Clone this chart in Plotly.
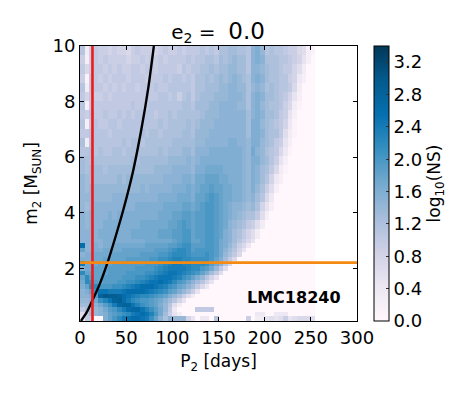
import plotly.graph_objects as go

# log10(NS), in tenths, top row first, rows are cut short where only 0 follows
upper_rows = [
    [11,3,9,10,9,9,8,9,8,8,7,9,10,9,9,9,8,9,10,9,9,10,9,10,10,10,11,10,11,10,12,12,13,13,12,12,11,15,16,14,11,12,11,11,10,9,9,7,6,2,1],
    [9,2,9,10,9,10,9,9,9,9,8,9,9,10,9,10,9,10,9,10,10,10,10,11,10,11,11,12,12,11,13,12,13,14,13,13,11,15,16,15,12,12,12,11,11,10,9,8,5,2],
    [10,7,9,10,10,9,10,9,10,9,9,10,10,9,10,10,9,10,10,10,10,9,11,10,11,11,12,12,13,12,13,13,14,14,13,13,11,15,15,14,13,12,12,11,10,10,8,6,3],
    [9,1,10,10,9,10,9,10,10,10,9,10,10,10,9,10,10,10,11,10,11,11,10,11,10,12,12,13,12,13,14,13,14,15,14,13,12,15,16,15,13,12,12,11,11,9,8,4,2],
    [11,3,10,10,10,9,10,9,10,9,10,10,9,10,10,10,11,10,10,11,11,11,11,11,10,12,12,13,13,13,14,14,15,15,14,14,12,14,15,14,12,13,12,11,11,10,7,3],
    [10,8,10,9,9,10,9,10,10,10,10,10,10,10,11,10,10,11,11,10,11,9,11,12,10,12,13,13,13,14,14,14,15,15,15,14,12,15,16,15,13,13,12,11,10,8,5,2],
    [11,2,10,10,10,10,10,10,10,10,10,11,10,10,10,11,11,11,11,11,11,11,12,12,11,13,13,13,14,14,15,15,15,15,14,14,12,15,16,14,13,12,12,11,9,7,3,1],
    [10,9,11,10,10,11,10,10,11,10,11,10,11,11,11,11,10,11,11,12,11,12,12,12,12,12,13,14,14,14,15,15,15,15,15,15,13,15,16,15,13,13,12,10,9,5,2],
    [11,2,10,11,10,10,11,11,10,11,11,11,11,11,11,11,11,12,11,12,12,12,12,13,12,13,14,14,14,15,15,15,15,15,15,15,13,16,16,14,13,12,11,10,8,4,1],
    [10,10,11,11,11,11,10,11,11,11,11,11,11,12,11,12,12,11,12,12,12,12,13,13,12,14,14,14,15,15,15,15,15,15,15,15,13,16,16,15,13,12,12,10,6,3,1],
    [12,3,11,11,11,11,11,11,11,12,11,12,12,11,12,12,12,12,12,12,13,13,13,13,13,14,14,15,15,15,15,15,16,16,15,15,14,16,16,14,13,12,10,9,5,2],
    [11,11,12,11,12,11,11,12,12,11,12,12,12,12,12,12,12,13,12,13,13,13,14,14,13,15,15,15,16,16,16,16,16,16,16,15,14,17,15,14,12,11,10,7,4,1],
    [13,12,12,12,12,12,12,12,12,12,12,13,12,13,13,13,13,13,13,14,14,14,14,15,14,15,16,16,16,16,16,16,16,16,16,15,14,16,16,14,13,11,9,5,2],
    [13,12,13,13,13,12,13,13,13,13,13,13,13,13,13,13,14,14,14,14,15,15,15,15,14,16,16,17,17,17,17,16,16,16,16,15,14,16,15,13,12,10,7,3,1],
    [14,13,13,13,13,13,13,13,14,13,14,14,14,14,14,14,14,14,15,15,15,15,16,16,15,17,17,18,18,18,17,17,16,16,16,15,14,16,15,13,11,8,4,2],
    [14,13,14,14,14,14,14,14,14,14,14,14,14,15,14,15,15,15,15,15,16,16,16,17,16,17,18,18,19,18,18,17,17,16,16,15,14,16,14,12,9,6,2],
    [14,14,14,14,14,14,14,15,15,15,15,15,15,15,15,15,15,16,16,16,16,17,17,17,16,18,18,19,20,19,18,17,17,16,16,15,14,15,13,11,7,4],
    [14,13,14,15,15,15,15,15,15,15,15,15,16,16,16,16,16,16,17,17,17,17,18,18,17,18,19,20,20,19,18,17,16,15,15,14,13,14,12,8,5,2],
    [15,14,15,15,15,15,16,15,16,16,16,16,16,16,16,16,16,17,17,17,18,18,19,19,18,19,19,20,20,19,18,17,16,15,14,13,12,12,10,6,2],
    [15,14,15,15,15,16,16,16,16,16,16,16,16,17,17,17,17,17,17,18,18,19,20,19,18,19,19,20,20,19,18,17,15,14,13,12,10,9,6,3],
    [15,15,15,15,16,16,16,16,16,16,16,17,17,17,17,17,17,18,18,18,19,19,20,20,18,19,19,20,20,19,18,16,15,13,12,10,8,6,3],
]
lower_rows = [
    [15,15,15,15,15,16,16,16,16,16,16,16,16,16,17,17,17,17,17,17,18,19,20,20,18,18,19,20,20,19,17,16,15,13,11,9,7,5],
    [26,15,15,16,15,16,16,17,17,17,17,17,17,17,18,18,18,18,18,19,19,20,21,21,19,19,19,20,20,19,17,16,14,12,9,7,4],
    [18,15,15,16,16,17,17,17,17,18,18,18,18,18,18,18,19,19,19,20,21,22,22,21,19,20,20,20,20,19,17,15,13,11,8,5],
    [15,16,16,17,17,17,17,18,18,18,18,18,18,19,19,19,19,20,20,21,22,22,22,21,20,20,20,21,20,19,17,14,12,10,7],
    [16,16,16,17,17,18,18,18,18,18,19,19,19,19,19,20,20,21,21,22,23,23,22,22,21,21,21,21,20,18,16,13,10,7],
    [24,17,17,17,18,18,18,19,19,19,19,19,19,19,20,20,20,21,22,23,24,24,23,23,22,22,22,21,19,17,15,11,7],
    [16,17,17,18,18,18,19,19,19,19,19,19,20,20,20,20,21,22,23,24,24,24,24,23,22,22,20,19,17,14,10,6],
    [22,18,18,18,18,18,19,19,19,19,20,20,20,20,21,21,22,23,24,25,25,24,23,22,21,20,18,16,13,10,6],
    [18,22,19,18,18,19,19,19,19,20,20,20,21,21,22,23,24,25,25,25,24,23,21,20,18,16,14,11,8,5],
    [17,22,21,19,18,19,19,19,20,20,21,21,22,23,24,25,25,26,25,24,22,20,19,17,15,13,11,8,5],
    [16,18,22,22,20,20,20,21,21,22,23,24,25,26,26,26,25,24,23,21,20,18,17,15,13,10,7,4],
    [15,16,18,21,25,25,24,24,24,25,26,26,26,26,25,24,23,22,21,19,18,16,14,12,9,5],
    [15,15,16,19,28,30,29,29,28,26,25,24,23,22,22,21,20,19,18,16,14,12,9,6,3],
    [14,14,15,17,21,23,25,28,29,26,24,22,21,20,20,19,18,17,15,13,11,8,5],
    [13,13,14,15,17,19,21,24,27,28,28,25,23,21,20,19,18,16,14,11,6,3],
    [10,12,13,14,15,17,19,20,22,24,26,27,27,25,23,21,19,17,14,10,4,0,0,0,0,10,10,10,10],
    [6,10,13,14,15,16,18,19,20,21,22,24,25,26,25,23,20,17,13,9,5,3,0,0,0,0,0,0,0,0,0,0,0,0,0,0,0,0,4,4,0,0,4,4,4],
    [5,10,10,0,0,16,18,20,22,24,25,26,26,25,24,21,18,15,12,15,14,14,14,8,5,0,4,4,0,11,0,0,0,0,0,0,9,0,3,3,5,6,5,6,9,5,6,7,7,7,6],
]
n_cols = 51
period_edges = [5 * i for i in range(n_cols + 1)]
mass_edges_upper = [10, 9.67, 9.34, 9.01, 8.68, 8.35, 8.02, 7.69, 7.36, 7.03, 6.7, 6.37, 6.04, 5.71, 5.38, 5.05, 4.72, 4.39, 4.06, 3.73, 3.4]
mass_edges_lower = [3.07, 2.905, 2.74, 2.575, 2.41, 2.245, 2.08, 1.915, 1.75, 1.585, 1.42, 1.255, 1.09, 0.925, 0.76, 0.595, 0.43, 0.265, 0.1]

period_limit = 13.5
mass_limit = 2.2
curve_period = [1, 7, 12.7, 21, 29.8, 38, 47.3, 57.7, 67, 74, 80]
curve_mass = [0.1, 0.4, 0.79, 1.4, 2.2, 3.08, 4.15, 5.53, 7.1, 8.5, 10]

pubu = ["#fff7fb", "#ece7f2", "#d0d1e6", "#a6bddb", "#74a9cf", "#3690c0", "#0570b0", "#045a8d", "#023858"]
colorscale = [[i / 8, c] for i, c in enumerate(pubu)]

rows = upper_rows + lower_rows
z = [[v / 10 for v in r] + [0] * (n_cols - len(r)) for r in rows]

fig = go.Figure()
fig.add_trace(go.Heatmap(
    x=period_edges,
    y=mass_edges_upper + mass_edges_lower,
    z=z,
    zmin=0,
    zmax=3.4,
    colorscale=colorscale,
    hoverinfo="skip",
    colorbar=dict(
        thickness=15, thicknessmode="pixels", len=1, lenmode="fraction",
        x=1.061, xanchor="left", xpad=0, y=0.5, yanchor="middle", ypad=0,
        outlinecolor="black", outlinewidth=1,
        tickvals=[0, 0.4, 0.8, 1.2, 1.6, 2.0, 2.4, 2.8, 3.2],
        ticktext=["0.0", "0.4", "0.8", "1.2", "1.6", "2.0", "2.4", "2.8", "3.2"],
        ticks="inside", ticklen=3, tickcolor="#333333", tickwidth=1,
        tickfont=dict(size=18, color="black"),
        title=dict(text="log<sub>10</sub>(NS)", side="right", font=dict(size=17, color="black")),
    ),
))
fig.add_trace(go.Scatter(x=curve_period, y=curve_mass, mode="lines", line=dict(color="black", width=2.4, shape="spline", smoothing=0.6), showlegend=False))
fig.add_trace(go.Scatter(x=[period_limit, period_limit], y=[0.1, 10], mode="lines", line=dict(color="#f01a1a", width=2.6), showlegend=False))
fig.add_trace(go.Scatter(x=[0, 300], y=[mass_limit, mass_limit], mode="lines", line=dict(color="#f58a12", width=2.6), showlegend=False))

fig.add_annotation(x=232, y=0.955, text="<b>LMC18240</b>", showarrow=False, font=dict(size=16, color="black"))

fig.update_layout(
    width=466, height=387, autosize=False,
    margin=dict(l=72, r=117, t=38, b=74),
    paper_bgcolor="white", plot_bgcolor="white",
    font=dict(family="DejaVu Sans", color="black"),
    showlegend=False,
    title=dict(text="e<sub>2</sub> =  <span style='font-size:23px'>0.0</span>", x=(218 - 80) / 277, xref="paper", xanchor="center", y=0.938, yanchor="middle", font=dict(size=20)),
)
fig.update_xaxes(
    range=[0, 300], tickvals=[0, 50, 100, 150, 200, 250, 300],
    ticks="inside", ticklen=4, tickcolor="black", tickfont=dict(size=18),
    showline=True, linecolor="black", linewidth=1, mirror="ticks", showgrid=False, zeroline=False,
    title=dict(text="P<sub>2</sub> [days]", font=dict(size=17), standoff=8),
)
fig.update_yaxes(
    range=[0.1, 10], tickvals=[2, 4, 6, 8, 10],
    ticks="inside", ticklen=4, tickcolor="black", tickfont=dict(size=18),
    showline=True, linecolor="black", linewidth=1, mirror="ticks", showgrid=False, zeroline=False,
    title=dict(text="m<sub>2</sub> [M<sub>SUN</sub>]", font=dict(size=17), standoff=10),
)

fig.write_html("out.html")
